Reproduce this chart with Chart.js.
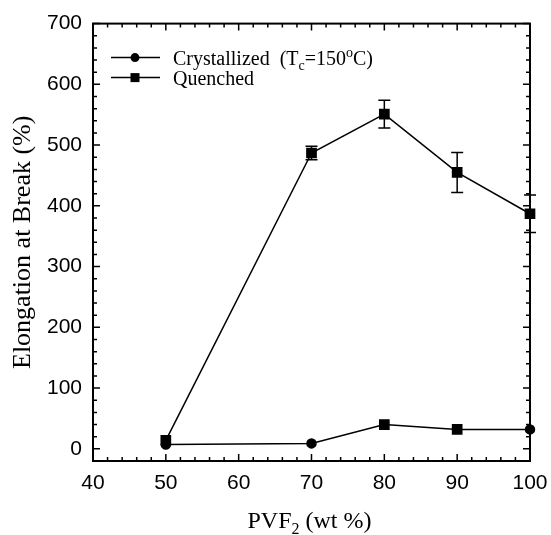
<!DOCTYPE html>
<html lang="en">
<head>
    <meta charset="UTF-8">
    <title>Elongation at Break</title>
    <script src="https://cdn.jsdelivr.net/npm/chart.js"></script>
    <style>
        html, body { margin: 0; padding: 0; background: #fff; }
        #wrap { width: 551px; height: 535px; }
    </style>
</head>
<body>
    <div id="wrap"><canvas id="chart"></canvas></div>

    <script>
        // data
        const pvf2 = [50, 70, 80, 90, 100];
        const crystallized = [7, 9, 40, 32, 32];
        const quenched = [14, 487, 551, 455, 387];
        const quenchedErr = [0, 11, 23, 33, 31];

        const serif = '"Liberation Serif", "Times New Roman", serif';
        const sans = '"Liberation Sans", Arial, sans-serif';

        // inward ticks on all four sides + frame
        const frame = {
            id: 'frame',
            beforeDatasetsDraw(chart) {
                const { ctx, chartArea: a, scales } = chart;
                ctx.save();
                ctx.strokeStyle = '#000';
                ctx.lineWidth = 1.5;
                scales.x.ticks.forEach(t => {
                    const px = scales.x.getPixelForValue(t.value);
                    const len = t.value % 10 === 0 ? 7 : 4;
                    ctx.beginPath();
                    ctx.moveTo(px, a.bottom); ctx.lineTo(px, a.bottom - len);
                    ctx.moveTo(px, a.top); ctx.lineTo(px, a.top + len);
                    ctx.stroke();
                });
                scales.y.ticks.forEach(t => {
                    const py = scales.y.getPixelForValue(t.value);
                    const len = t.value % 100 === 0 ? 7 : 4;
                    ctx.beginPath();
                    ctx.moveTo(a.left, py); ctx.lineTo(a.left + len, py);
                    ctx.moveTo(a.right, py); ctx.lineTo(a.right - len, py);
                    ctx.stroke();
                });
                ctx.lineWidth = 2;
                ctx.strokeRect(a.left, a.top, a.right - a.left, a.bottom - a.top);
                ctx.restore();
            }
        };

        // error bars for the quenched series
        const errorBars = {
            id: 'errorBars',
            afterDatasetsDraw(chart) {
                const { ctx, scales } = chart;
                const meta = chart.getDatasetMeta(1);
                ctx.save();
                ctx.strokeStyle = '#000';
                ctx.lineWidth = 1.5;
                meta.data.forEach((pt, i) => {
                    const e = quenchedErr[i];
                    if (!e) return;
                    const yTop = scales.y.getPixelForValue(quenched[i] + e);
                    const yBot = scales.y.getPixelForValue(quenched[i] - e);
                    ctx.beginPath();
                    ctx.moveTo(pt.x, yTop); ctx.lineTo(pt.x, yBot);
                    ctx.moveTo(pt.x - 6, yTop); ctx.lineTo(pt.x + 6, yTop);
                    ctx.moveTo(pt.x - 6, yBot); ctx.lineTo(pt.x + 6, yBot);
                    ctx.stroke();
                });
                ctx.restore();
            }
        };

        // legend with sub/superscripts
        const legendBox = {
            id: 'legendBox',
            afterDraw(chart) {
                const { ctx, chartArea: a } = chart;
                const x0 = a.left + 18, x1 = a.left + 67, xm = a.left + 42;
                const rows = [
                    { y: a.top + 34, style: 'circle' },
                    { y: a.top + 54, style: 'rect' }
                ];
                ctx.save();
                ctx.strokeStyle = '#000';
                ctx.fillStyle = '#000';
                ctx.lineWidth = 1.5;
                rows.forEach(r => {
                    ctx.beginPath();
                    ctx.moveTo(x0, r.y); ctx.lineTo(x1, r.y);
                    ctx.stroke();
                    if (r.style === 'circle') {
                        ctx.beginPath();
                        ctx.arc(xm, r.y, 4.5, 0, Math.PI * 2);
                        ctx.fill();
                    } else {
                        ctx.fillRect(xm - 4.5, r.y - 4.5, 9, 9);
                    }
                });
                ctx.textBaseline = 'alphabetic';
                const big = '20px ' + serif, small = '14px ' + serif;
                let tx = a.left + 80, by = rows[0].y + 7;
                const put = (s, f, dy) => {
                    ctx.font = f;
                    ctx.fillText(s, tx, by + dy);
                    tx += ctx.measureText(s).width;
                };
                put('Crystallized  (T', big, 0);
                put('c', small, 5);
                put('=150', big, 0);
                put('o', small, -8);
                put('C)', big, 0);
                tx = a.left + 80; by = rows[1].y + 7;
                put('Quenched', big, 0);
                ctx.restore();
            }
        };

        // x-axis title with subscript
        const xTitle = {
            id: 'xTitle',
            afterDraw(chart) {
                const { ctx, chartArea: a } = chart;
                ctx.save();
                ctx.fillStyle = '#000';
                const parts = [['PVF', '24px ' + serif, 0], ['2', '16px ' + serif, 6], [' (wt %)', '24px ' + serif, 0]];
                let w = 0;
                parts.forEach(p => { ctx.font = p[1]; w += ctx.measureText(p[0]).width; });
                let tx = (a.left + a.right) / 2 - w / 2 - 2;
                const by = 528;
                parts.forEach(p => {
                    ctx.font = p[1];
                    ctx.fillText(p[0], tx, by + p[2]);
                    tx += ctx.measureText(p[0]).width;
                });
                ctx.restore();
            }
        };

        new Chart(document.getElementById('chart'), {
            type: 'line',
            data: {
                labels: pvf2,
                datasets: [{
                    label: 'Crystallized',
                    data: pvf2.map((x, i) => ({ x: x, y: crystallized[i] })),
                    borderColor: '#000',
                    backgroundColor: '#000',
                    borderWidth: 1.5,
                    pointStyle: ['circle', 'circle', 'rect', 'rect', 'circle'],
                    pointRadius: [4.5, 4.5, 6.5, 6.5, 4.5],
                    tension: 0,
                    clip: false
                }, {
                    label: 'Quenched',
                    data: pvf2.map((x, i) => ({ x: x, y: quenched[i] })),
                    borderColor: '#000',
                    backgroundColor: '#000',
                    borderWidth: 1.5,
                    pointStyle: 'rect',
                    pointRadius: 6.5,
                    tension: 0,
                    clip: false
                }]
            },
            options: {
                responsive: true,
                maintainAspectRatio: false,
                animation: false,
                layout: { padding: { top: 23, right: 21, left: 0, bottom: 0 } },
                plugins: {
                    legend: { display: false },
                    tooltip: { enabled: false }
                },
                scales: {
                    x: {
                        type: 'linear',
                        min: 40,
                        max: 100,
                        grid: { display: false, drawTicks: false },
                        border: { display: false },
                        afterFit: s => { s.height = 74; s.paddingRight = 0; s.paddingLeft = 0; },
                        ticks: {
                            stepSize: 2,
                            autoSkip: false,
                            maxRotation: 0,
                            padding: 10,
                            color: '#000',
                            font: { family: sans, size: 21 },
                            callback: v => v % 10 === 0 ? v : ''
                        }
                    },
                    y: {
                        min: -20,
                        max: 700,
                        grid: { display: false, drawTicks: false },
                        border: { display: false },
                        afterFit: s => { s.width = 93; },
                        title: {
                            display: true,
                            text: 'Elongation at Break (%)',
                            color: '#000',
                            font: { family: serif, size: 26 },
                            padding: { top: 8, bottom: 0 }
                        },
                        ticks: {
                            stepSize: 20,
                            autoSkip: false,
                            padding: 11,
                            color: '#000',
                            font: { family: sans, size: 21 },
                            callback: v => (v % 100 === 0 && v >= 0) ? v : ''
                        }
                    }
                }
            },
            plugins: [frame, errorBars, legendBox, xTitle]
        });
    </script>
</body>
</html>
